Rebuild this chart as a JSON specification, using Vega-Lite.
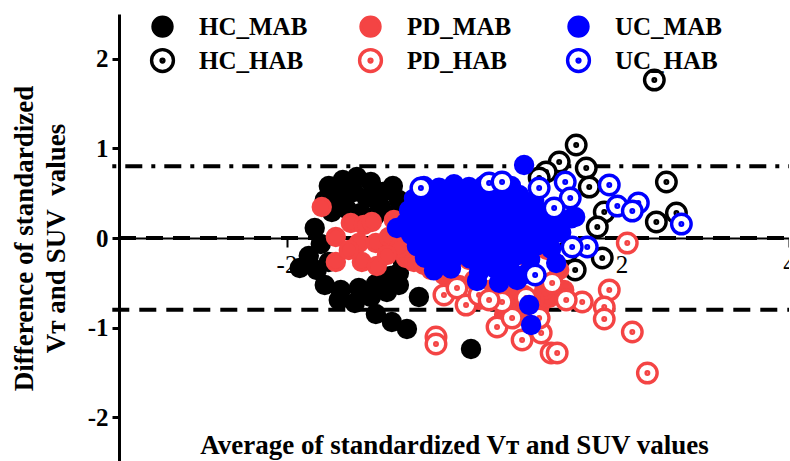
{
  "$schema": "https://vega.github.io/schema/vega-lite/v6.json",
  "width": 670,
  "height": 448,
  "autosize": {"type": "none"},
  "padding": {"left": 119, "top": 14, "right": 0, "bottom": 0},
  "background": "white",
  "config": {"view": {"stroke": null}, "font": "Liberation Serif"},
  "layer": [
    {
      "data": {"values": [{"x": -4.08, "x2": 4, "y": 0.8}]},
      "mark": {"type": "rule", "color": "black", "strokeWidth": 4, "strokeDash": [4, 9, 17, 9], "strokeCap": "butt"},
      "encoding": {"x": {"field": "x", "type": "quantitative"}, "x2": {"field": "x2"}, "y": {"field": "y", "type": "quantitative"}}
    },
    {
      "data": {"values": [{"x": -4.08, "x2": 4, "y": -0.8}, {"x": -4.0, "x2": 4, "y": 0.0}]},
      "mark": {"type": "rule", "color": "black", "strokeWidth": 4, "strokeDash": [17, 10], "strokeCap": "butt"},
      "encoding": {"x": {"field": "x", "type": "quantitative"}, "x2": {"field": "x2"}, "y": {"field": "y", "type": "quantitative"}}
    },
    {
      "data": {"values": [
        {"g":"HC_MAB","x":-1.495,"y":0.580},{"g":"HC_MAB","x":-1.328,"y":0.647},{"g":"HC_MAB","x":-1.160,"y":0.681},{"g":"HC_MAB","x":-0.993,"y":0.625},
        {"g":"HC_MAB","x":-0.849,"y":0.513},{"g":"HC_MAB","x":-1.543,"y":0.424},{"g":"HC_MAB","x":-1.376,"y":0.469},{"g":"HC_MAB","x":-1.196,"y":0.513},
        {"g":"HC_MAB","x":-1.041,"y":0.446},{"g":"HC_MAB","x":-0.873,"y":0.346},{"g":"HC_MAB","x":-1.459,"y":0.290},{"g":"HC_MAB","x":-1.280,"y":0.324},
        {"g":"HC_MAB","x":-1.112,"y":0.279},{"g":"HC_MAB","x":-0.945,"y":0.246},{"g":"HC_MAB","x":-0.730,"y":0.580},{"g":"HC_MAB","x":-0.658,"y":0.424},
        {"g":"HC_MAB","x":-0.682,"y":0.279},{"g":"HC_MAB","x":-1.663,"y":0.112},{"g":"HC_MAB","x":-1.591,"y":-0.067},{"g":"HC_MAB","x":-1.734,"y":-0.201},
        {"g":"HC_MAB","x":-1.842,"y":-0.335},{"g":"HC_MAB","x":-1.639,"y":-0.357},{"g":"HC_MAB","x":-1.495,"y":-0.268},{"g":"HC_MAB","x":-1.543,"y":-0.525},
        {"g":"HC_MAB","x":-1.352,"y":-0.580},{"g":"HC_MAB","x":-1.136,"y":-0.558},{"g":"HC_MAB","x":-0.933,"y":-0.513},{"g":"HC_MAB","x":-0.754,"y":-0.424},
        {"g":"HC_MAB","x":-0.610,"y":-0.268},{"g":"HC_MAB","x":-0.598,"y":-0.089},{"g":"HC_MAB","x":-0.682,"y":0.067},{"g":"HC_MAB","x":-1.376,"y":-0.692},
        {"g":"HC_MAB","x":-1.184,"y":-0.725},{"g":"HC_MAB","x":-0.993,"y":-0.658},{"g":"HC_MAB","x":-0.801,"y":-0.603},{"g":"HC_MAB","x":-0.658,"y":-0.525},
        {"g":"HC_MAB","x":-0.933,"y":-0.848},{"g":"HC_MAB","x":-0.742,"y":-0.938},{"g":"HC_MAB","x":-0.562,"y":-1.016},{"g":"HC_MAB","x":-0.419,"y":-0.658},
        {"g":"HC_MAB","x":0.203,"y":-1.239},{"g":"HC_MAB","x":-0.658,"y":-0.391},
        {"g":"HC_HAB","x":2.392,"y":1.763},{"g":"HC_HAB","x":1.459,"y":1.038},{"g":"HC_HAB","x":1.256,"y":0.848},{"g":"HC_HAB","x":1.579,"y":0.781},
        {"g":"HC_HAB","x":1.100,"y":0.737},{"g":"HC_HAB","x":1.017,"y":0.670},{"g":"HC_HAB","x":1.615,"y":0.569},{"g":"HC_HAB","x":2.536,"y":0.625},
        {"g":"HC_HAB","x":1.794,"y":0.290},{"g":"HC_HAB","x":1.711,"y":0.123},{"g":"HC_HAB","x":2.416,"y":0.179},{"g":"HC_HAB","x":2.656,"y":0.279},
        {"g":"HC_HAB","x":1.770,"y":-0.223},{"g":"HC_HAB","x":1.447,"y":-0.357},{"g":"HC_HAB","x":1.352,"y":-0.156},
        {"g":"PD_MAB","x":-1.579,"y":0.346},{"g":"PD_MAB","x":-1.411,"y":0.011},{"g":"PD_MAB","x":-1.411,"y":-0.268},{"g":"PD_MAB","x":-1.232,"y":0.167},
        {"g":"PD_MAB","x":-1.077,"y":0.145},{"g":"PD_MAB","x":-0.981,"y":0.179},{"g":"PD_MAB","x":-1.136,"y":-0.056},{"g":"PD_MAB","x":-0.933,"y":-0.056},
        {"g":"PD_MAB","x":-1.100,"y":-0.268},{"g":"PD_MAB","x":-0.921,"y":-0.313},{"g":"PD_MAB","x":-0.778,"y":0.011},{"g":"PD_MAB","x":-0.658,"y":0.067},
        {"g":"PD_MAB","x":-0.718,"y":0.201},{"g":"PD_MAB","x":-0.574,"y":-0.223},{"g":"PD_MAB","x":-0.658,"y":-0.112},{"g":"PD_MAB","x":-0.478,"y":-0.268},
        {"g":"PD_MAB","x":-0.359,"y":-0.301},{"g":"PD_MAB","x":-0.275,"y":-0.357},{"g":"PD_MAB","x":-0.395,"y":-0.112},{"g":"PD_MAB","x":-1.256,"y":-0.134},
        {"g":"PD_MAB","x":-0.801,"y":-0.190},{"g":"PD_MAB","x":-0.120,"y":-0.413},{"g":"PD_MAB","x":0.060,"y":-0.525},{"g":"PD_MAB","x":0.239,"y":-0.469},
        {"g":"PD_MAB","x":0.419,"y":-0.580},{"g":"PD_MAB","x":0.538,"y":-0.692},{"g":"PD_MAB","x":0.682,"y":-0.748},{"g":"PD_MAB","x":0.778,"y":-0.826},
        {"g":"PD_MAB","x":0.897,"y":-0.893},{"g":"PD_MAB","x":1.017,"y":-0.781},{"g":"PD_MAB","x":1.136,"y":-0.670},{"g":"PD_MAB","x":1.196,"y":-0.525},
        {"g":"PD_MAB","x":1.256,"y":-0.357},{"g":"PD_MAB","x":1.077,"y":-0.580},{"g":"PD_MAB","x":0.837,"y":-0.636},{"g":"PD_MAB","x":0.658,"y":-0.580},
        {"g":"PD_MAB","x":0.598,"y":-0.859},{"g":"PD_MAB","x":0.957,"y":-0.692},{"g":"PD_MAB","x":1.316,"y":-0.580},{"g":"PD_MAB","x":0.179,"y":-0.246},
        {"g":"PD_MAB","x":0.538,"y":-0.301},{"g":"PD_MAB","x":0.897,"y":-0.246},{"g":"PD_MAB","x":1.112,"y":-0.134},{"g":"PD_MAB","x":0.778,"y":-0.078},
        {"g":"PD_MAB","x":0.299,"y":-0.692},
        {"g":"PD_HAB","x":2.069,"y":-0.056},{"g":"PD_HAB","x":1.854,"y":-0.580},{"g":"PD_HAB","x":1.794,"y":-0.770},{"g":"PD_HAB","x":1.794,"y":-0.904},
        {"g":"PD_HAB","x":1.531,"y":-0.714},{"g":"PD_HAB","x":1.340,"y":-0.692},{"g":"PD_HAB","x":2.129,"y":-1.049},{"g":"PD_HAB","x":2.309,"y":-1.507},
        {"g":"PD_HAB","x":-0.120,"y":-0.636},{"g":"PD_HAB","x":0.036,"y":-0.558},{"g":"PD_HAB","x":0.144,"y":-0.748},{"g":"PD_HAB","x":0.299,"y":-0.636},
        {"g":"PD_HAB","x":0.514,"y":-0.993},{"g":"PD_HAB","x":0.813,"y":-1.138},{"g":"PD_HAB","x":1.041,"y":-1.060},{"g":"PD_HAB","x":1.160,"y":-1.283},
        {"g":"PD_HAB","x":1.232,"y":-1.283},{"g":"PD_HAB","x":-0.215,"y":-1.105},{"g":"PD_HAB","x":-0.215,"y":-1.183},{"g":"PD_HAB","x":0.694,"y":-0.893},
        {"g":"PD_HAB","x":0.574,"y":-0.714},{"g":"PD_HAB","x":1.172,"y":-0.502},{"g":"PD_HAB","x":0.419,"y":-0.692},{"g":"PD_HAB","x":0.861,"y":-0.670},
        {"g":"PD_HAB","x":1.017,"y":-0.893},
        {"g":"UC_MAB","x":-0.359,"y":0.58},{"g":"UC_MAB","x":-0.179,"y":0.56},{"g":"UC_MAB","x":0.0,"y":0.60},{"g":"UC_MAB","x":0.179,"y":0.57},
        {"g":"UC_MAB","x":0.359,"y":0.59},{"g":"UC_MAB","x":0.538,"y":0.55},{"g":"UC_MAB","x":0.682,"y":0.58},
        {"g":"UC_MAB","x":-0.478,"y":0.44},{"g":"UC_MAB","x":-0.299,"y":0.46},{"g":"UC_MAB","x":-0.120,"y":0.43},{"g":"UC_MAB","x":0.060,"y":0.45},
        {"g":"UC_MAB","x":0.239,"y":0.47},{"g":"UC_MAB","x":0.419,"y":0.44},{"g":"UC_MAB","x":0.598,"y":0.46},{"g":"UC_MAB","x":0.778,"y":0.48},
        {"g":"UC_MAB","x":0.957,"y":0.42},
        {"g":"UC_MAB","x":-0.538,"y":0.31},{"g":"UC_MAB","x":-0.371,"y":0.33},{"g":"UC_MAB","x":-0.203,"y":0.30},{"g":"UC_MAB","x":-0.024,"y":0.32},
        {"g":"UC_MAB","x":0.156,"y":0.29},{"g":"UC_MAB","x":0.335,"y":0.31},{"g":"UC_MAB","x":0.514,"y":0.33},{"g":"UC_MAB","x":0.694,"y":0.30},
        {"g":"UC_MAB","x":0.873,"y":0.32},{"g":"UC_MAB","x":1.053,"y":0.28},{"g":"UC_MAB","x":1.208,"y":0.30},
        {"g":"UC_MAB","x":-0.574,"y":0.17},{"g":"UC_MAB","x":-0.419,"y":0.19},{"g":"UC_MAB","x":-0.239,"y":0.16},{"g":"UC_MAB","x":-0.060,"y":0.18},
        {"g":"UC_MAB","x":0.120,"y":0.20},{"g":"UC_MAB","x":0.299,"y":0.17},{"g":"UC_MAB","x":0.478,"y":0.19},{"g":"UC_MAB","x":0.658,"y":0.16},
        {"g":"UC_MAB","x":0.837,"y":0.18},{"g":"UC_MAB","x":1.017,"y":0.20},{"g":"UC_MAB","x":1.196,"y":0.17},{"g":"UC_MAB","x":1.400,"y":0.22},
        {"g":"UC_MAB","x":-0.514,"y":0.04},{"g":"UC_MAB","x":-0.335,"y":0.06},{"g":"UC_MAB","x":-0.156,"y":0.03},{"g":"UC_MAB","x":0.024,"y":0.05},
        {"g":"UC_MAB","x":0.203,"y":0.07},{"g":"UC_MAB","x":0.383,"y":0.04},{"g":"UC_MAB","x":0.562,"y":0.02},{"g":"UC_MAB","x":0.742,"y":0.06},
        {"g":"UC_MAB","x":0.921,"y":0.05},{"g":"UC_MAB","x":1.100,"y":0.03},{"g":"UC_MAB","x":1.280,"y":0.06},
        {"g":"UC_MAB","x":-0.443,"y":-0.09},{"g":"UC_MAB","x":-0.263,"y":-0.07},{"g":"UC_MAB","x":-0.084,"y":-0.10},{"g":"UC_MAB","x":0.096,"y":-0.08},
        {"g":"UC_MAB","x":0.275,"y":-0.11},{"g":"UC_MAB","x":0.455,"y":-0.09},{"g":"UC_MAB","x":0.634,"y":-0.07},{"g":"UC_MAB","x":0.813,"y":-0.10},
        {"g":"UC_MAB","x":0.993,"y":-0.08},{"g":"UC_MAB","x":1.160,"y":-0.12},
        {"g":"UC_MAB","x":-0.347,"y":-0.22},{"g":"UC_MAB","x":-0.167,"y":-0.24},{"g":"UC_MAB","x":0.012,"y":-0.21},{"g":"UC_MAB","x":0.191,"y":-0.23},
        {"g":"UC_MAB","x":0.371,"y":-0.25},{"g":"UC_MAB","x":0.550,"y":-0.22},{"g":"UC_MAB","x":0.730,"y":-0.20},{"g":"UC_MAB","x":0.909,"y":-0.24},
        {"g":"UC_MAB","x":1.220,"y":-0.28},
        {"g":"UC_MAB","x":-0.239,"y":-0.36},{"g":"UC_MAB","x":-0.036,"y":-0.34},{"g":"UC_MAB","x":0.299,"y":-0.38},{"g":"UC_MAB","x":0.502,"y":-0.35},
        {"g":"UC_MAB","x":0.682,"y":-0.37},{"g":"UC_MAB","x":0.861,"y":-0.40},
        {"g":"UC_MAB","x":0.275,"y":-0.48},{"g":"UC_MAB","x":0.538,"y":-0.50},{"g":"UC_MAB","x":0.754,"y":-0.47},
        {"g":"UC_MAB","x":-0.682,"y":0.112},{"g":"UC_MAB","x":0.837,"y":0.815},{"g":"UC_MAB","x":0.897,"y":-0.748},{"g":"UC_MAB","x":0.921,"y":-0.971},
        {"g":"UC_MAB","x":1.447,"y":0.234},
        {"g":"UC_HAB","x":-0.395,"y":0.558},{"g":"UC_HAB","x":0.419,"y":0.614},{"g":"UC_HAB","x":0.574,"y":0.625},{"g":"UC_HAB","x":1.017,"y":0.558},
        {"g":"UC_HAB","x":1.328,"y":0.625},{"g":"UC_HAB","x":1.388,"y":0.446},{"g":"UC_HAB","x":1.854,"y":0.592},{"g":"UC_HAB","x":1.950,"y":0.357},
        {"g":"UC_HAB","x":2.201,"y":0.391},{"g":"UC_HAB","x":2.129,"y":0.301},{"g":"UC_HAB","x":2.715,"y":0.156},{"g":"UC_HAB","x":1.591,"y":-0.100},
        {"g":"UC_HAB","x":1.411,"y":-0.100},{"g":"UC_HAB","x":0.969,"y":-0.413},{"g":"UC_HAB","x":1.196,"y":0.335}
      ]},
      "mark": {"type": "point", "filled": true, "strokeWidth": 3.4, "size": 289, "opacity": 1},
      "encoding": {
        "x": {
          "field": "x", "type": "quantitative",
          "scale": {"domain": [-4, 4], "nice": false, "zero": false},
          "axis": {
            "orient": "bottom", "offset": -224, "values": [-2, 2, 4], "grid": false,
            "labelExpr": "'' + datum.value",
            "domainColor": "black", "domainWidth": 2, "tickColor": "black", "tickWidth": 2, "tickSize": 9,
            "labelFont": "Liberation Serif", "labelFontSize": 25, "labelColor": "black", "labelPadding": 5, "labelFlush": false,
            "title": "Average of standardized Vᴛ and SUV values",
            "titleFont": "Liberation Serif", "titleFontSize": 27, "titleFontWeight": "bold", "titleColor": "black",
            "titleY": 215, "titleBaseline": "alphabetic"
          }
        },
        "y": {
          "field": "y", "type": "quantitative",
          "scale": {"domain": [-2.5, 2.5], "nice": false, "zero": false},
          "axis": {
            "values": [-2, -1, 0, 1, 2], "grid": false,
            "labelExpr": "'' + datum.value",
            "domainColor": "black", "domainWidth": 3, "tickColor": "black", "tickWidth": 3, "tickSize": 7,
            "labelFont": "Liberation Serif", "labelFontSize": 25, "labelFontWeight": "bold", "labelColor": "black", "labelPadding": 4,
            "title": ["Difference of standardized", "Vᴛ and SUV\u00a0 values"],
            "titleFont": "Liberation Serif", "titleFontSize": 27, "titleFontWeight": "bold", "titleColor": "black",
            "titleLineHeight": 32, "titlePadding": 17
          }
        },
        "fill": {
          "field": "g", "type": "nominal",
          "scale": {"domain": ["HC_MAB", "PD_MAB", "UC_MAB", "HC_HAB", "PD_HAB", "UC_HAB"], "range": ["#000000", "#F44444", "#0000FF", "#FFFFFF", "#FFFFFF", "#FFFFFF"]},
          "legend": {
            "orient": "none", "legendX": 31, "legendY": -1, "columns": 3, "direction": "horizontal", "title": null,
            "labelFont": "Liberation Serif", "labelFontSize": 25, "labelFontWeight": "bold", "labelColor": "black",
            "symbolSize": 361, "symbolStrokeWidth": 3.4, "labelOffset": 24, "columnPadding": 44, "rowPadding": -2,
            "gridAlign": "all", "labelLimit": 0, "padding": 0
          }
        },
        "stroke": {
          "field": "g", "type": "nominal",
          "scale": {"domain": ["HC_MAB", "PD_MAB", "UC_MAB", "HC_HAB", "PD_HAB", "UC_HAB"], "range": ["#000000", "#F44444", "#0000FF", "#000000", "#F44444", "#0000FF"]}
        },
        "shape": {
          "field": "g", "type": "nominal",
          "scale": {"domain": ["HC_MAB", "PD_MAB", "UC_MAB", "HC_HAB", "PD_HAB", "UC_HAB"], "range": ["circle", "circle", "circle",
            "M 1.15 0 A 1.15 1.15 0 1 1 -1.15 0 A 1.15 1.15 0 1 1 1.15 0 Z M 0.15 0 A 0.15 0.15 0 1 1 -0.15 0 A 0.15 0.15 0 1 1 0.15 0 Z",
            "M 1.15 0 A 1.15 1.15 0 1 1 -1.15 0 A 1.15 1.15 0 1 1 1.15 0 Z M 0.15 0 A 0.15 0.15 0 1 1 -0.15 0 A 0.15 0.15 0 1 1 0.15 0 Z",
            "M 1.15 0 A 1.15 1.15 0 1 1 -1.15 0 A 1.15 1.15 0 1 1 1.15 0 Z M 0.15 0 A 0.15 0.15 0 1 1 -0.15 0 A 0.15 0.15 0 1 1 0.15 0 Z"]}
        }
      }
    }
  ]
}
